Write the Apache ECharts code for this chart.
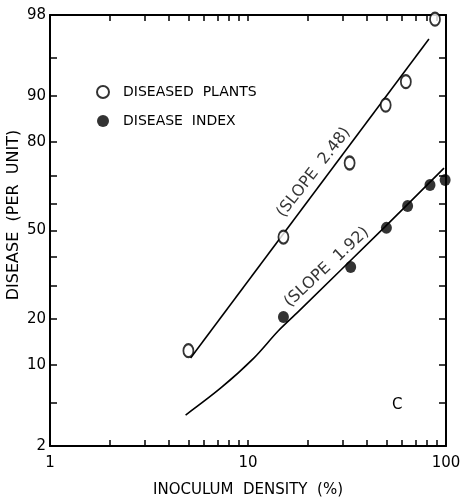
<!DOCTYPE html>
<html>
<head>
<meta charset="utf-8">
<script src="https://cdn.jsdelivr.net/npm/echarts@6/dist/echarts.min.js"></script>
<style>
html,body{margin:0;padding:0;background:#fff;}
#chart{width:466px;height:499px;}
</style>
</head>
<body>
<div id="chart"></div>
<script>
// ---- data (inoculum density %, disease %) ----
var plantsX = [5, 15.1, 32.6, 49.6, 62.7, 88];
var plantsY = [12.6, 47.5, 74, 88.4, 92.2, 97.8];
var indexX = [15.1, 33, 50, 64, 83, 99];
var indexY = [20.5, 36.4, 51, 59.2, 66.8, 68.5];
// fitted lines as drawn
var plantsLineX = [5.13, 82];
var plantsLineY = [11.2, 96.6];
var indexLineX = [4.84, 7.29, 10.7, 14.2, 17.9, 49, 97.7];
var indexLineY = [3.93, 6.67, 11.2, 16.9, 21.9, 51.3, 72.4];
// axes
var yTickPct = [2, 5, 10, 20, 30, 40, 50, 60, 70, 80, 90, 95, 98];
var yLabelPct = [2, 10, 20, 50, 80, 90, 98];
var xTickVals = [1, 2, 3, 4, 5, 6, 7, 8, 9, 10, 20, 30, 40, 50, 60, 70, 80, 90, 100];
var xLabelVals = [1, 10, 100];
var slopeLabels = ['(SLOPE  2.48)', '(SLOPE  1.92)'];
var yTitle = 'DISEASE  (PER  UNIT)';
var xTitle = 'INOCULUM  DENSITY  (%)';

// inverse normal CDF (Acklam)
function probit(p) {
  var a = [-3.969683028665376e+01, 2.209460984245205e+02, -2.759285104469687e+02, 1.383577518672690e+02, -3.066479806614716e+01, 2.506628277459239e+00];
  var b = [-5.447609879822406e+01, 1.615858368580409e+02, -1.556989798598866e+02, 6.680131188771972e+01, -1.328068155288572e+01];
  var c = [-7.784894002430293e-03, -3.223964580411365e-01, -2.400758277161838e+00, -2.549732539343734e+00, 4.374664141464968e+00, 2.938163982698783e+00];
  var d = [7.784695709041462e-03, 3.224671290700398e-01, 2.445134137142996e+00, 3.754408661907416e+00];
  var pl = 0.02425, q, r;
  if (p < pl) {
    q = Math.sqrt(-2 * Math.log(p));
    return (((((c[0]*q+c[1])*q+c[2])*q+c[3])*q+c[4])*q+c[5]) / ((((d[0]*q+d[1])*q+d[2])*q+d[3])*q+1);
  } else if (p <= 1 - pl) {
    q = p - 0.5; r = q * q;
    return (((((a[0]*r+a[1])*r+a[2])*r+a[3])*r+a[4])*r+a[5])*q / (((((b[0]*r+b[1])*r+b[2])*r+b[3])*r+b[4])*r+1);
  } else {
    q = Math.sqrt(-2 * Math.log(1 - p));
    return -(((((c[0]*q+c[1])*q+c[2])*q+c[3])*q+c[4])*q+c[5]) / ((((d[0]*q+d[1])*q+d[2])*q+d[3])*q+1);
  }
}
function py(pct) { return probit(pct / 100); }
function lx(v) { return Math.log10(v); }
function pairs(xs, ys) { return xs.map(function (x, i) { return [lx(x), py(ys[i])]; }); }
function nearest(list, f, v) {
  var best = list[0], bd = Infinity;
  list.forEach(function (t) { var dd = Math.abs(f(t) - v); if (dd < bd) { bd = dd; best = t; } });
  return best;
}

var FONT = 'DejaVu Sans';
var INK = '#000';
var yMin = py(yTickPct[0]), yMax = py(yTickPct[yTickPct.length - 1]);

function xAxisDef(pos, showLabel) {
  return {
    type: 'value', position: pos, min: lx(xTickVals[0]), max: lx(xTickVals[xTickVals.length - 1]),
    name: showLabel ? xTitle : '', nameLocation: 'middle', nameGap: 37,
    nameTextStyle: { fontFamily: FONT, fontSize: 15, color: INK },
    axisLine: { show: true, onZero: false, lineStyle: { color: INK, width: 2 } },
    axisTick: { show: true, inside: true, length: 6, lineStyle: { color: INK, width: 1.5 }, customValues: xTickVals.map(lx) },
    axisLabel: { show: showLabel, margin: 10, fontFamily: FONT, fontSize: 15, color: INK,
      customValues: xLabelVals.map(lx),
      formatter: function (v) { return String(nearest(xLabelVals, lx, v)); } },
    splitLine: { show: false }
  };
}
function yAxisDef(pos, showLabel) {
  return {
    type: 'value', position: pos, min: yMin, max: yMax,
    axisLine: { show: true, onZero: false, lineStyle: { color: INK, width: 2 } },
    axisTick: { show: true, inside: true, length: 7, lineStyle: { color: INK, width: 1.5 }, customValues: yTickPct.map(py) },
    axisLabel: { show: showLabel, margin: 4, fontFamily: FONT, fontSize: 15, color: INK,
      customValues: yLabelPct.map(py),
      formatter: function (v) { return String(nearest(yLabelPct, py, v)); } },
    splitLine: { show: false }
  };
}

var slopeData = [
  { value: [lx(21.5), py(71)], label: { rotate: 52, formatter: slopeLabels[0] } },
  { value: [lx(25), py(36.3)], label: { rotate: 43, formatter: slopeLabels[1] } }
];

var chart = echarts.init(document.getElementById('chart'), null, { renderer: 'canvas' });
chart.setOption({
  backgroundColor: '#fff',
  animation: false,
  grid: { left: 50, right: 20, top: 15, bottom: 53, outerBoundsMode: 'none', containLabel: false },
  xAxis: [xAxisDef('bottom', true), xAxisDef('top', false)],
  yAxis: [yAxisDef('left', true), yAxisDef('right', false)],
  legend: {
    data: ['DISEASED  PLANTS', 'DISEASE  INDEX'],
    orient: 'vertical', left: 91, top: 80, itemWidth: 12, itemHeight: 13, itemGap: 15,
    textStyle: { fontFamily: FONT, fontSize: 14, color: INK, padding: [0, 0, 0, 9] }
  },
  series: [
    { name: 'plantsLine', type: 'line', data: pairs(plantsLineX, plantsLineY), showSymbol: false, symbol: 'none',
      lineStyle: { color: INK, width: 1.6 }, z: 2 },
    { name: 'indexLine', type: 'line', data: pairs(indexLineX, indexLineY), showSymbol: false, symbol: 'none',
      smooth: 0.3,
      lineStyle: { color: INK, width: 1.6 }, z: 2 },
    { name: 'DISEASED  PLANTS', type: 'scatter', data: pairs(plantsX, plantsY), symbol: 'emptyCircle', symbolSize: [10, 13],
      itemStyle: { color: INK, borderColor: INK, borderWidth: 1.6 }, clip: false, z: 3 },
    { name: 'DISEASE  INDEX', type: 'scatter', data: pairs(indexX, indexY), symbol: 'circle', symbolSize: [11, 12],
      itemStyle: { color: INK }, clip: false, z: 3 },
    { name: 'slopes', type: 'scatter', data: slopeData, symbolSize: 0, silent: true, z: 4,
      label: { show: true, position: 'inside', fontFamily: FONT, fontSize: 16, color: INK, textBorderWidth: 0 } }
  ],
  graphic: [
    { type: 'text', x: 14, y: 215, rotation: Math.PI / 2,
      style: { text: yTitle, font: '16px "DejaVu Sans"', fill: INK, align: 'center', verticalAlign: 'middle' } },
    { type: 'text', left: 392, top: 398, style: { text: 'C', font: '15px "DejaVu Sans"', fill: INK } }
  ]
});
</script>
</body>
</html>
